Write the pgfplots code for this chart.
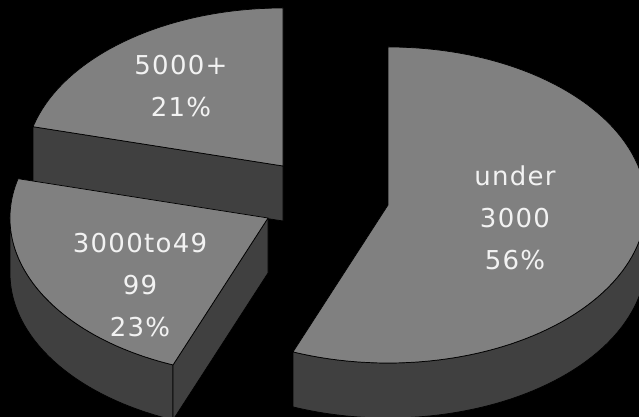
\documentclass[border=0pt]{standalone}
\usepackage{pgfplots}
\pgfplotsset{compat=1.18}
\usepackage{pgfplotstable}
\usepackage{fontspec}
\setmainfont{DejaVu Sans}
\newfontfamily\lblfont[LetterSpace=5]{DejaVu Sans}
\definecolor{topc}{HTML}{808080}
\definecolor{sidec}{HTML}{404040}
\definecolor{txt}{HTML}{F2F2F2}

% slice values (%) and explosion offsets (pt) of each slice centre
\pgfplotstableread{
name value dx dy
under 56 0 0
mid 23 -120 -13
top 21 -105 39
}\slices

\newcommand{\rx}{258}
\newcommand{\ry}{158}
\newcommand{\hh}{55}
\newcommand{\topface}[4]{%
 \filldraw[fill=topc, draw=black, line width=0.7pt, line join=round] (axis cs:#1,#2) -- ++(#3:\rx pt and \ry pt) arc[start angle=#3, end angle=#4, x radius=\rx pt, y radius=\ry pt] -- cycle;}
\newcommand{\arcside}[4]{%
 \filldraw[fill=sidec, draw=black, line width=0.7pt, line join=round] (axis cs:#1,#2) ++(#3:\rx pt and \ry pt) arc[start angle=#3, end angle=#4, x radius=\rx pt, y radius=\ry pt] -- ++(0pt,-\hh pt) arc[start angle=#4, end angle=#3, x radius=\rx pt, y radius=\ry pt] -- cycle;}
\newcommand{\radside}[3]{%
 \filldraw[fill=sidec, draw=black, line width=0.7pt, line join=round] (axis cs:#1,#2) -- ++(#3:\rx pt and \ry pt) -- ++(0pt,-\hh pt) -- ([yshift=-\hh pt]axis cs:#1,#2) -- cycle;}

\begin{document}
\begin{tikzpicture}
\pgfplotstablegetelem{0}{value}\of\slices \let\vA\pgfplotsretval
\pgfplotstablegetelem{1}{value}\of\slices \let\vB\pgfplotsretval
\pgfplotstablegetelem{2}{value}\of\slices \let\vC\pgfplotsretval
\pgfplotstablegetelem{1}{dx}\of\slices \let\dxB\pgfplotsretval
\pgfplotstablegetelem{1}{dy}\of\slices \let\dyB\pgfplotsretval
\pgfplotstablegetelem{2}{dx}\of\slices \let\dxC\pgfplotsretval
\pgfplotstablegetelem{2}{dy}\of\slices \let\dyC\pgfplotsretval
\pgfmathsetmacro{\cxA}{388}
\pgfmathsetmacro{\cyA}{212}
\pgfmathsetmacro{\cxB}{\cxA+\dxB}
\pgfmathsetmacro{\cyB}{\cyA+\dyB}
\pgfmathsetmacro{\cxC}{\cxA+\dxC}
\pgfmathsetmacro{\cyC}{\cyA+\dyC}
\pgfmathsetmacro{\aA}{90}
\pgfmathsetmacro{\aB}{\aA-3.6*\vA}
\pgfmathsetmacro{\aC}{\aB-3.6*\vB}
\pgfmathsetmacro{\aD}{\aC-3.6*\vC}
\begin{axis}[
  x=1pt, y=1pt, scale only axis,
  xmin=0, xmax=639, ymin=0, ymax=417,
  hide axis, clip=true,
]
\fill[black] (axis cs:0,0) rectangle (axis cs:639,417);
% 5000+ (back slice)
\radside{\cxC}{\cyC}{\aC}
\topface{\cxC}{\cyC}{\aC}{\aD}
% 3000to4999
\arcside{\cxB}{\cyB}{\aB}{-180}
\radside{\cxB}{\cyB}{\aB}
\topface{\cxB}{\cyB}{\aB}{\aC}
% under 3000
\arcside{\cxA}{\cyA}{0}{\aB}
\topface{\cxA}{\cyA}{\aA}{\aB}
% labels
\node[text=txt, align=center, font=\lblfont\fontsize{26}{42}\selectfont] at (axis cs:181,331) {5000+\\21\%};
\node[text=txt, align=center, font=\lblfont\fontsize{26}{42}\selectfont] at (axis cs:140,132) {3000to49\\99\\23\%};
\node[text=txt, align=center, font=\lblfont\fontsize{26}{42}\selectfont] at (axis cs:515,199) {under\\3000\\56\%};
\end{axis}
\end{tikzpicture}
\end{document}
